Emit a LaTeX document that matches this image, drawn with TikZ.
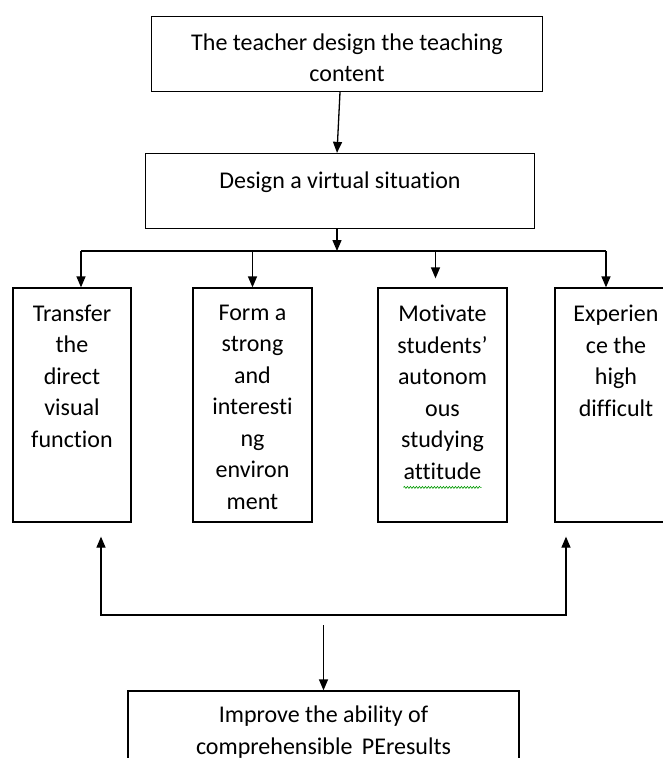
\documentclass[tikz,border=0pt]{standalone}
\usepackage{fontspec}
\setmainfont[Ligatures=NoCommon]{Carlito}
\usetikzlibrary{arrows.meta,decorations.pathmorphing}
\newcommand{\cell}[4][17pt]{\parbox[c][#3][t]{#2}{\centering\vspace*{#1}#4}}
\tikzset{
	box/.style={draw, line width=1.3pt, inner sep=0pt, font=\fontsize{24}{31.5}\selectfont},
	flow/.style={line width=1.3pt, -{Triangle[length=11pt,width=9pt]}},
	squiggle/.style={green!60!black, line width=0.6pt, decorate, decoration={snake, amplitude=1pt, segment length=3pt}}
}

\begin{document}
\begin{tikzpicture}[x=1pt, y=-1pt]
	\useasboundingbox (0,0) rectangle (663,758);
	\clip (0,0) rectangle (663,758);
	% top part
	\node[box] (teacher) at (347,54) {\cell[17pt]{391pt}{75pt}{The teacher design the teaching\\content}};
	\node[box] (situation) at (340,191) {\cell[18pt]{389pt}{75pt}{Design a virtual situation}};
	\draw[flow] ([xshift=-7pt]teacher.south) -- ([xshift=-3pt]situation.north);
	% the four ways
	\node[box] (transfer) at (72,405) {\cell{118pt}{234pt}{Transfer\\the\\direct\\visual\\function}};
	\node[box] (form) at (252.5,405) {\cell{119pt}{234pt}{Form a\\strong\\and\\interesti\\ng\\environ\\ment}};
	\node[box] (motivate) at (442.5,405) {\cell{129pt}{234pt}{Motivate\\students’\\autonom\\ous\\studying\\attitude}};
	\node[box] (experience) at (616,405) {\cell{122pt}{234pt}{Experien\\ce the\\high\\difficult}};
	\draw[squiggle] ([xshift=-39pt,yshift=-200pt]motivate.north) -- ([xshift=39pt,yshift=-200pt]motivate.north);
	\coordinate (bus) at (0,251);
	\draw[flow] ([xshift=-3pt]situation.south) -- ([xshift=-3pt]situation.south |- bus);
	\draw[line width=1.3pt] ([xshift=9pt]transfer.north |- bus) -- ([xshift=-10pt]experience.north |- bus);
	\draw[flow] ([xshift=9pt]transfer.north |- bus) -- ([xshift=9pt]transfer.north);
	\draw[flow] (form.north |- bus) -- (form.north);
	\draw[flow, shorten >=9pt] ([xshift=-7pt]motivate.north |- bus) -- ([xshift=-7pt]motivate.north);
	\draw[flow] ([xshift=-10pt]experience.north |- bus) -- ([xshift=-10pt]experience.north);
	% back to the result
	\node[box] (ability) at (323.5,731) {\cell[15pt]{391pt}{80pt}{Improve the ability of\\comprehensible\, PEresults}};
	\coordinate (leftup) at ([xshift=29pt]transfer.south);
	\coordinate (rightup) at ([xshift=-50pt]experience.south);
	\coordinate (fb) at (0,615);
	\draw[line width=1.3pt, {Triangle[length=11pt,width=9pt]}-{Triangle[length=11pt,width=9pt]}, shorten <=14pt, shorten >=14pt]
		(leftup) -- (leftup |- fb) -- (rightup |- fb) -- (rightup);
	\draw[flow] ([yshift=-10pt]ability.north |- fb) -- (ability.north);
\end{tikzpicture}
\end{document}
